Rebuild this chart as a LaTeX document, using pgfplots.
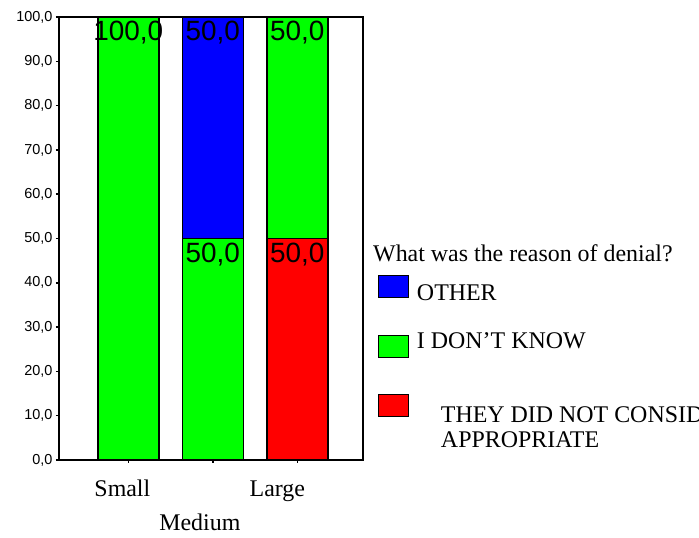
\documentclass[border=0pt]{standalone}
\usepackage{fontspec}
\setmainfont{Liberation Serif}
\newfontfamily\arial{Liberation Sans}
\usepackage{pgfplots}
\pgfplotsset{compat=1.18}
\definecolor{cgreen}{RGB}{0,255,0}
\definecolor{cblue}{RGB}{0,0,255}
\definecolor{cred}{RGB}{255,0,0}
\tikzset{vlab/.style={anchor=north, font=\arial\fontsize{28}{28}\selectfont, inner sep=0pt, yshift=-4bp, text=black}}
\begin{document}
\begin{tikzpicture}
\useasboundingbox (0bp,0bp) rectangle (699bp,538bp);
\clip (0bp,0bp) rectangle (699bp,538bp);
\begin{axis}[
  at={(59bp,78bp)}, anchor=south west,
  scale only axis, width=304bp, height=443bp,
  xmin=-0.821, xmax=2.777, ymin=0, ymax=100,
  ybar stacked, bar width=61bp,
  legend image code/.code={\draw[#1,draw=black,line width=1bp] (0bp,-11bp) rectangle (30bp,11bp);},
  xtick={0,1,2},
  xticklabels={{\makebox[0pt]{\hspace*{-12bp}Small}},{\makebox[0pt]{\hspace*{-26bp}\raisebox{-34bp}{Medium}}},{\makebox[0pt]{\hspace*{-40bp}Large}}},
  xticklabel style={font=\fontsize{24}{25}\selectfont, anchor=base, yshift=-33bp},
  ytick={0,10,...,100},
  yticklabel={\pgfmathprintnumber[fixed,fixed zerofill,precision=1,use comma,assume math mode=true]{\tick}},
  yticklabel style={font=\arial\fontsize{14.5}{14.5}\selectfont},
  tick align=outside, tick pos=left, major tick length=3bp,
  every tick/.style={black, line width=1.5bp},
  axis line style={line width=1.3bp},
  reverse legend,
  legend style={at={(1.0493,0.4176)}, anchor=north west, draw=none, fill=none, inner sep=0pt, outer sep=0pt,
    row sep=36.5bp, column sep=8bp, cells={anchor=west},
    nodes={inner sep=0pt, text depth=0pt},
    font=\fontsize{24}{25}\selectfont},
  clip=false,
]
\addplot+[fill=cred, draw=black, line width=1.3bp] coordinates {(0,0) (1,0) (2,50)};
\addlegendentry{\raisebox{-17bp}[0pt][0pt]{\hspace*{24bp}\begin{tabular}[t]{@{}l@{}}THEY DID NOT CONSIDER IT\\APPROPRIATE\end{tabular}}}
\addplot+[fill=cgreen, draw=black, line width=1.3bp] coordinates {(0,100) (1,50) (2,50)};
\addlegendentry{\raisebox{-2bp}[0pt][0pt]{I DON'T KNOW}}
\addplot+[fill=cblue, draw=black, line width=1.3bp] coordinates {(0,0) (1,50) (2,0)};
\addlegendentry{\raisebox{-14bp}[0pt][0pt]{OTHER}}
\coordinate (l1) at (axis cs:0,100);
\coordinate (l2) at (axis cs:1,100);
\coordinate (l3) at (axis cs:1,50);
\coordinate (l4) at (axis cs:2,100);
\coordinate (l5) at (axis cs:2,50);
\end{axis}
\node[vlab] at (l1) {100,0};
\node[vlab] at (l2) {50,0};
\node[vlab] at (l3) {50,0};
\node[vlab] at (l4) {50,0};
\node[vlab] at (l5) {50,0};
\node[anchor=base west, font=\fontsize{24}{25}\selectfont, inner sep=0pt] at (373bp,276bp) {What was the reason of denial?};
\end{tikzpicture}
\end{document}
